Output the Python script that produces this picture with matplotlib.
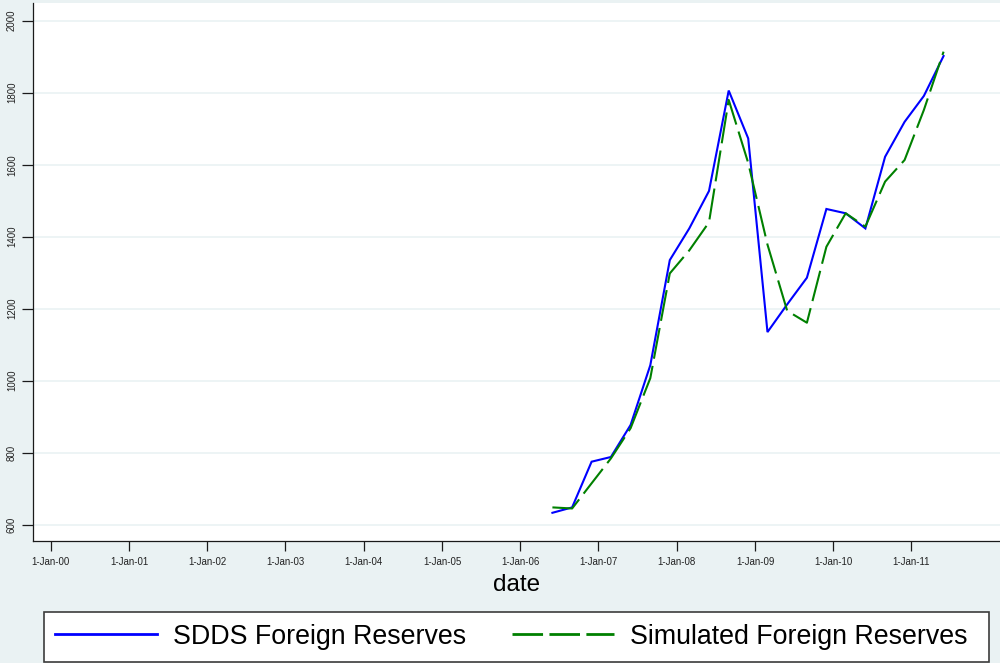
import matplotlib
matplotlib.use("Agg")
import matplotlib.pyplot as plt
import matplotlib.dates as mdates
from matplotlib.lines import Line2D
from matplotlib.patches import Rectangle
import pandas as pd

plt.rcParams['font.family'] = ['Liberation Sans', 'DejaVu Sans']

# ---- data ----
dates = ["2006-05-31", "2006-08-31", "2006-11-30", "2007-02-28", "2007-05-31",
         "2007-08-31", "2007-11-30", "2008-02-29", "2008-05-31", "2008-08-31",
         "2008-11-30", "2009-02-28", "2009-05-31", "2009-08-31", "2009-11-30",
         "2010-02-28", "2010-05-31", "2010-08-31", "2010-11-30", "2011-02-28",
         "2011-05-31"]
sdds_reserves = [633, 648, 775, 788, 877, 1043, 1335, 1423, 1527, 1806, 1673,
                 1135, 1212, 1286, 1477, 1465, 1423, 1622, 1719, 1791, 1902]
simulated_reserves = [648, 645, 715, 784, 868, 1007, 1298, 1362, 1440, 1780, 1605,
                      1378, 1194, 1161, 1372, 1465, 1428, 1553, 1613, 1752, 1914]
x_tick_dates = ["2000-01-01", "2001-01-01", "2002-01-01", "2003-01-01",
                "2004-01-01", "2005-01-01", "2006-01-01", "2007-01-01",
                "2008-01-01", "2009-01-01", "2010-01-01", "2011-01-01"]
x_tick_labels = ["1-Jan-00", "1-Jan-01", "1-Jan-02", "1-Jan-03", "1-Jan-04",
                 "1-Jan-05", "1-Jan-06", "1-Jan-07", "1-Jan-08", "1-Jan-09",
                 "1-Jan-10", "1-Jan-11"]
y_ticks = [600, 800, 1000, 1200, 1400, 1600, 1800, 2000]
series_labels = ["SDDS Foreign Reserves", "Simulated Foreign Reserves"]

BG = "#EAF2F3"
AXC = "#1a1a1a"
W, H = 1000, 663

fig = plt.figure(figsize=(10, 6.63), dpi=100, facecolor=BG)
ax = fig.add_axes([0.0333, 0.1836, 0.9667, 0.8114])
ax.set_facecolor("white")

x = pd.to_datetime(dates)
ax.plot(x, sdds_reserves, color="#0000FF", lw=1.5, solid_joinstyle="miter",
        label=series_labels[0], zorder=3)
ax.plot(x, simulated_reserves, color="#008000", lw=1.5,
        linestyle=(0, (15, 3.5)), label=series_labels[1], zorder=4)

# axis limits
t0 = mdates.date2num(pd.Timestamp("2000-01-01"))
ax.set_xlim(t0 - 81.2, t0 + 4431.4)
ax.set_ylim(553.9, 2048.3)

ax.set_xticks(mdates.date2num(pd.to_datetime(x_tick_dates)))
ax.set_xticklabels(x_tick_labels)
ax.set_yticks(y_ticks)
ax.set_yticklabels([str(v) for v in y_ticks], rotation=90, va="center")

ax.grid(axis="y", color=BG, lw=1.2, zorder=0)
ax.grid(axis="x", visible=False)
ax.set_axisbelow(True)

for s in ["top", "right"]:
    ax.spines[s].set_visible(False)
for s in ["left", "bottom"]:
    ax.spines[s].set_color(AXC)
    ax.spines[s].set_linewidth(0.9)

ax.tick_params(axis="x", direction="out", length=7.2, width=0.9, color=AXC,
               labelsize=7, pad=4.2, labelcolor="#222222")
ax.tick_params(axis="y", direction="out", length=8, width=0.9, color=AXC,
               labelsize=7, pad=3.8, labelcolor="#222222")

fig.text(0.5167, (H - 591) / H, "date", ha="center", va="baseline",
         fontsize=17.5, color="black")

# legend box
bx0, bx1, by0, by1 = 44.3, 989.0, 611.7, 661.7
fig.patches.append(Rectangle((bx0 / W, (H - by1) / H), (bx1 - bx0) / W,
                             (by1 - by0) / H, transform=fig.transFigure,
                             facecolor="white", edgecolor="#3c3c3c", lw=1.2,
                             zorder=1))

handles = [Line2D([], [], color="#0000FF", lw=2),
           Line2D([], [], color="#008000", lw=2, linestyle=(0, (11, 2.3)))]
leg = fig.legend(handles, series_labels, loc="center left",
                 bbox_to_anchor=(bx0 / W, (H - (by0 + by1) / 2) / H),
                 ncol=2, fontsize=19.3, handlelength=3.8,
                 handletextpad=0.6, columnspacing=1.73, borderpad=0.4,
                 borderaxespad=0, frameon=False)
leg.set_zorder(2)

fig.savefig("out.png", dpi=100, facecolor=BG)
